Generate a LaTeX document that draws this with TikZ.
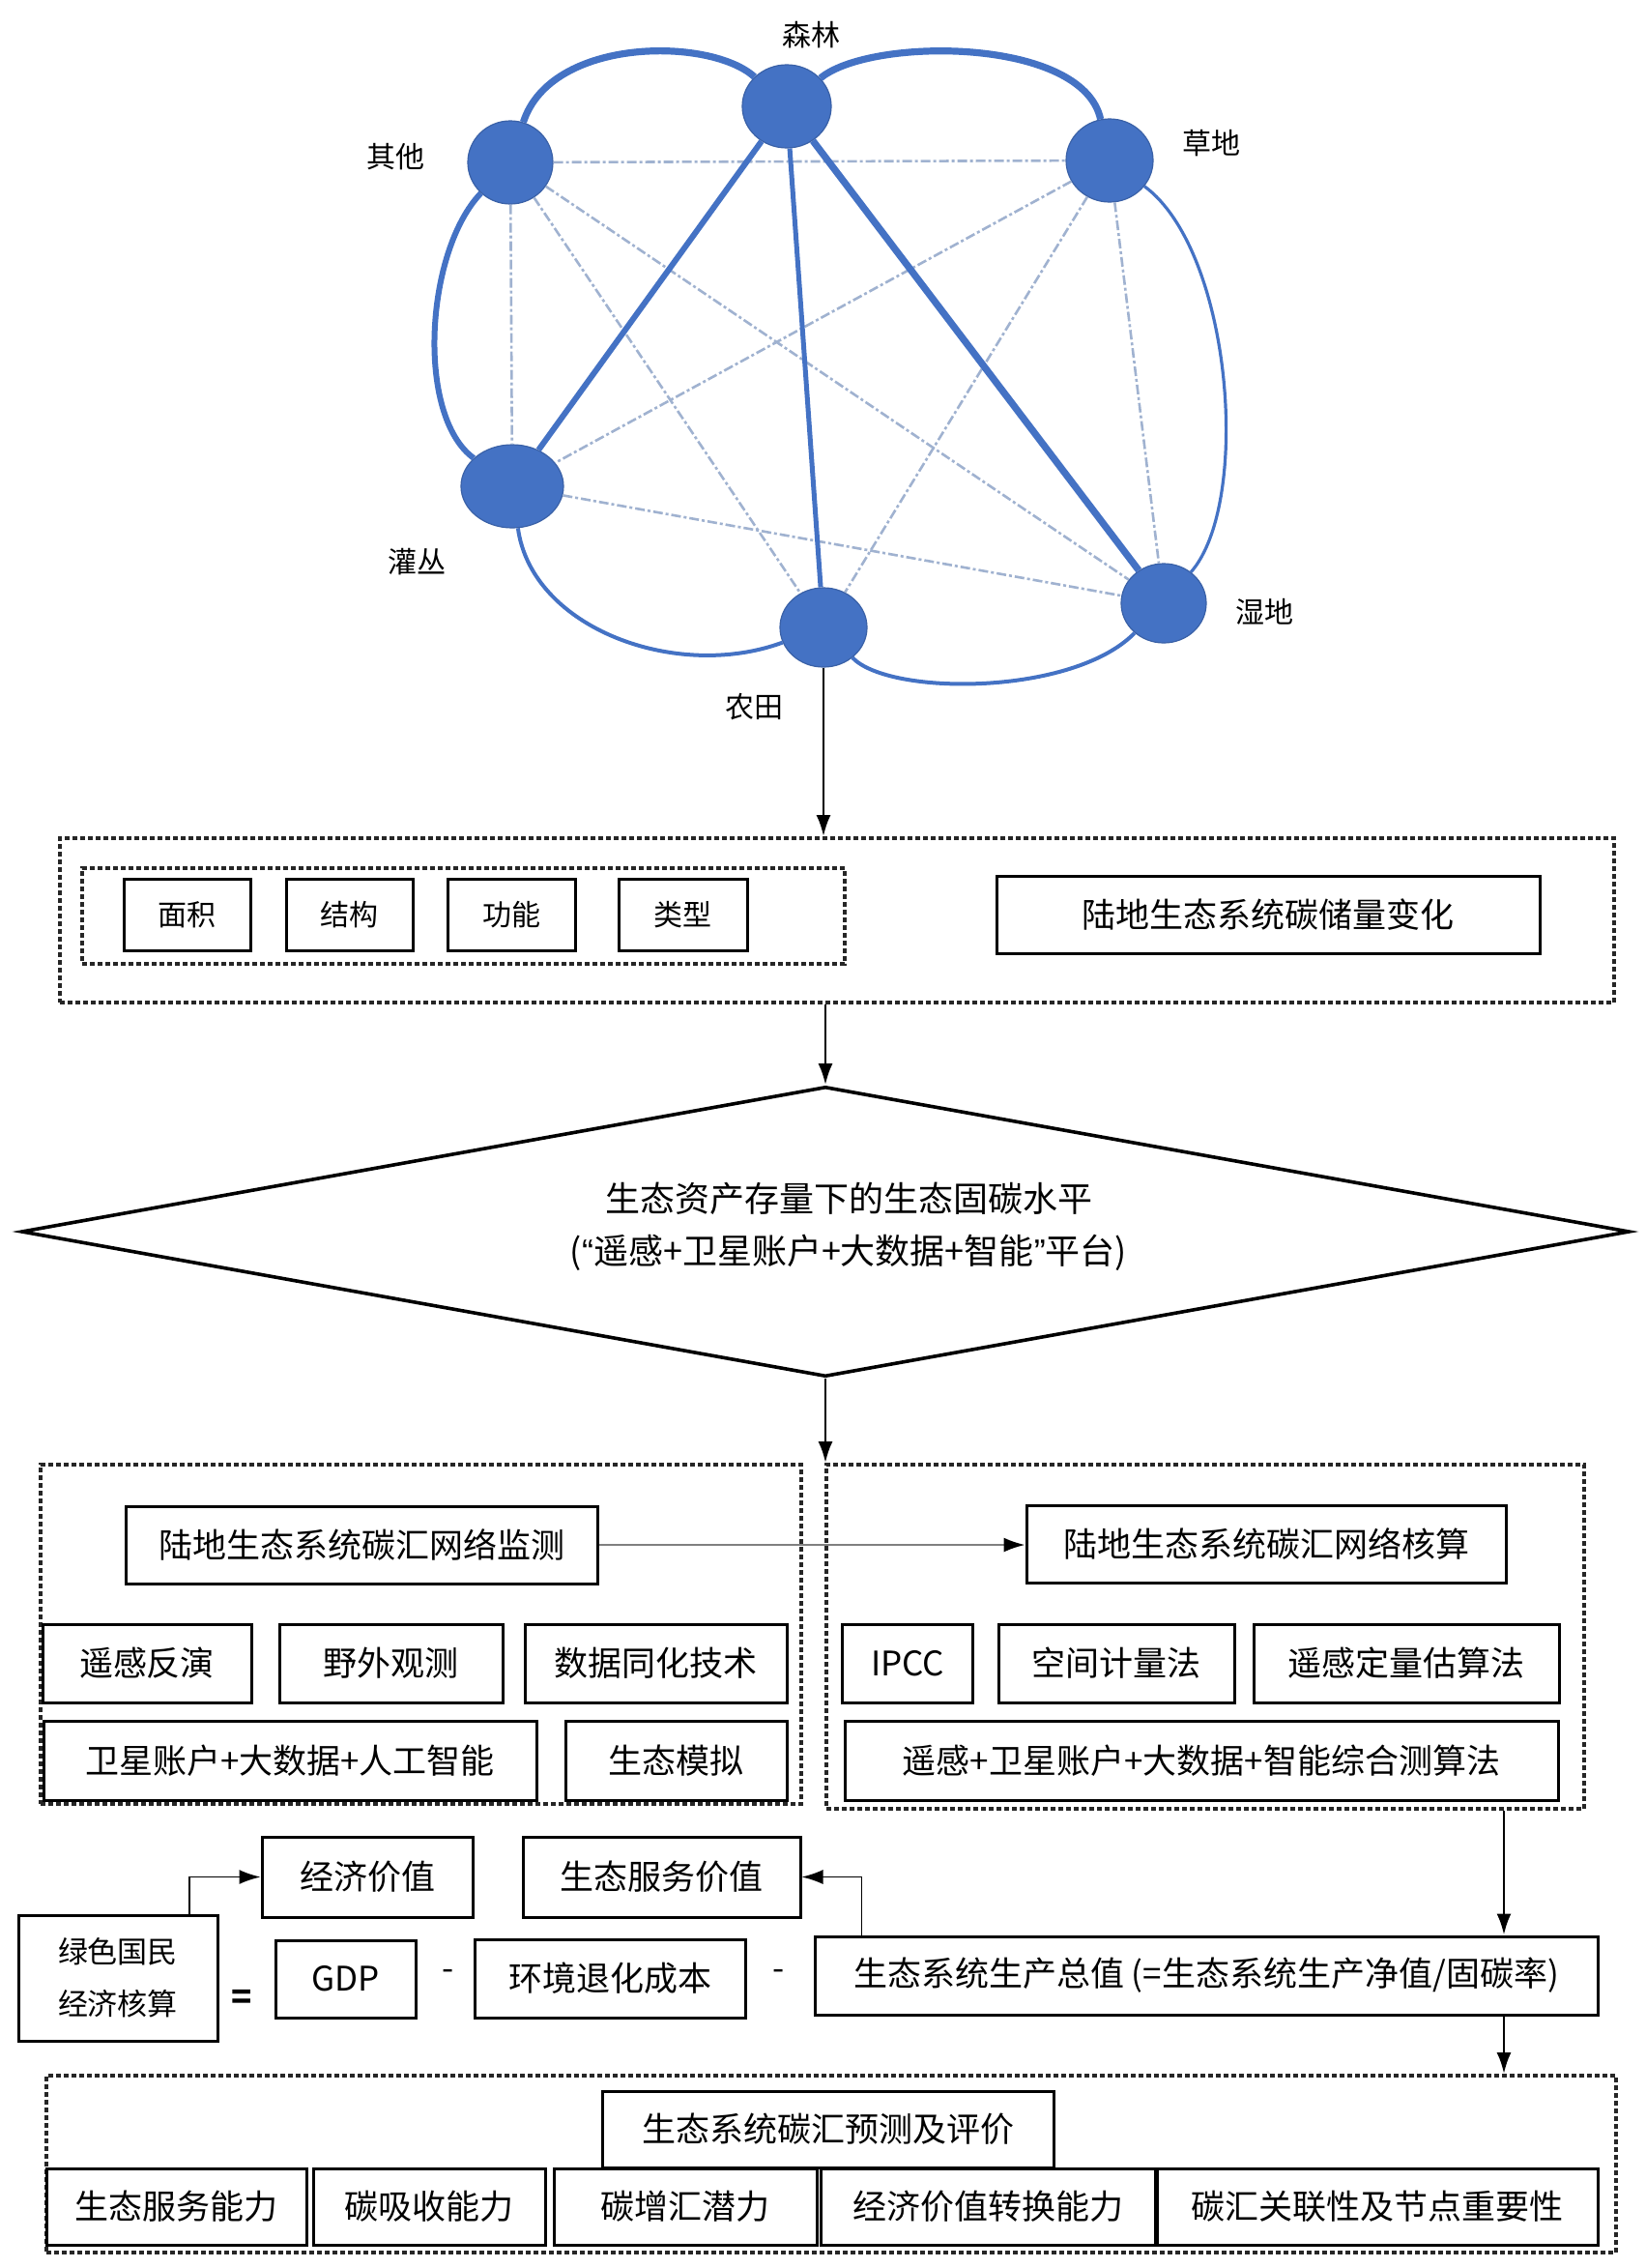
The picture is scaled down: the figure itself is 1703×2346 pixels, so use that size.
\documentclass[tikz,border=0pt]{standalone}
\usepackage{fontspec}
\newfontfamily\cjk{Noto Sans CJK SC}
\newfontfamily\lat{Liberation Sans}
\usetikzlibrary{shapes.geometric,arrows.meta}
\definecolor{netblue}{RGB}{68,114,196}
\definecolor{netgray}{RGB}{160,178,208}
\begin{document}
\begin{tikzpicture}[x=0.5pt,y=-0.5pt,
  font=\cjk\fontsize{17.5pt}{21pt}\selectfont,
  eco/.style={ellipse,fill=netblue,draw=netblue!85!black,line width=0.6pt,inner sep=0pt},
  tag/.style={font=\cjk\fontsize{15pt}{18pt}\selectfont},
  strong/.style={netblue,line width=3pt},
  weak/.style={netgray,line width=1.3pt,dash pattern=on 5pt off 1.5pt on 1.5pt off 1.5pt},
  box/.style={draw,line width=1.5pt,inner sep=0pt,fill=white},
  group/.style={draw=black!85,line width=1.9pt,dash pattern=on 2.5pt off 1.5pt,inner sep=0pt},
  arr/.style={-{Latex[length=11pt,width=7.5pt]},line width=1.4pt},
]
  \useasboundingbox (0,0) rectangle (1703,2346);

  \newcommand\boxH{40pt}

  %% network of ecosystems
  \node[eco,minimum width=46pt,minimum height=43pt] (senlin)   at (814,110) {};
  \node[eco,minimum width=44pt,minimum height=43pt] (qita)     at (528,168) {};
  \node[eco,minimum width=45pt,minimum height=43pt] (caodi)    at (1148,166) {};
  \node[eco,minimum width=53pt,minimum height=43pt] (guancong) at (530,503) {};
  \node[eco,minimum width=45pt,minimum height=41pt] (nongtian) at (852,649) {};
  \node[eco,minimum width=44pt,minimum height=41pt] (shidi)    at (1204,624) {};

  \node[tag] (lsenlin)   at (839,36)  {森林};
  \node[tag] (lqita)     at (409,162) {其他};
  \node[tag] (lcaodi)    at (1253,148) {草地};
  \node[tag] (lguancong) at (431,581) {灌丛};
  \node[tag] (lnongtian) at (780,731) {农田};
  \node[tag] (lshidi)    at (1308,633) {湿地};

  \foreach \a/\b in {qita/caodi, qita/guancong, qita/nongtian, qita/shidi,
                     caodi/guancong, caodi/nongtian, caodi/shidi, guancong/shidi}
    \draw[weak] (\a) -- (\b);

  \draw[strong,line width=3.6pt] (qita) .. controls (570,38) and (735,38) .. (senlin);
  \draw[strong,line width=3.6pt] (senlin) .. controls (900,38) and (1120,38) .. (caodi);
  \draw[strong] (senlin) -- (guancong);
  \draw[strong,line width=2.5pt] (senlin) -- (nongtian);
  \draw[strong,line width=3.6pt] (senlin) -- (shidi);
  \draw[strong] (qita) .. controls (440,260) and (430,430) .. (guancong);
  \draw[strong,line width=1.6pt] (caodi) .. controls (1275,260) and (1295,520) .. (shidi);
  \draw[strong,line width=2pt] (guancong) .. controls (550,650) and (700,705) .. (nongtian);
  \draw[strong,line width=2pt] (nongtian) .. controls (920,720) and (1110,720) .. (shidi);

  %% carbon stock
  \node[group,minimum width=804pt,minimum height=85pt] (stock) at (866,952) {};
  \node[group,minimum width=394.5pt,minimum height=49.5pt] (factors) at (479.5,947.5) {};
  \node[box,minimum width=65.5pt,minimum height=37pt] (mianji)  at (193.5,946) {\fontsize{15pt}{18pt}\selectfont 面积};
  \node[box,minimum width=65.5pt,minimum height=37pt] (jiegou)  at (361.5,946) {\fontsize{15pt}{18pt}\selectfont 结构};
  \node[box,minimum width=66pt,minimum height=37pt]   (gongneng) at (529,946) {\fontsize{15pt}{18pt}\selectfont 功能};
  \node[box,minimum width=66.5pt,minimum height=37pt] (leixing) at (706.5,946) {\fontsize{15pt}{18pt}\selectfont 类型};
  \node[box,minimum width=281pt,minimum height=\boxH] (change) at (1312,946) {陆地生态系统碳储量变化};

  \draw[arr] (nongtian.south) -- (nongtian.south |- stock.north);

  %% level of sequestration
  \node[diamond,draw,line width=1.8pt,inner sep=0pt,
        minimum width=832pt,minimum height=150pt] (level) at (854,1274) {};
  \node[align=center,font=\cjk\fontsize{18pt}{27pt}\selectfont] (leveltext) at (878,1269)
    {生态资产存量下的生态固碳水平\\({\lat “}遥感+卫星账户+大数据+智能{\lat ”}平台)};

  \draw[arr] (level.north |- stock.south) -- (level.north);

  %% monitoring and accounting
  \node[group,minimum width=393.5pt,minimum height=175.5pt] (lgroup) at (435.5,1690.5) {};
  \node[group,minimum width=392pt,minimum height=178pt]     (rgroup) at (1247,1693) {};

  \draw[arr] (level.south) -- (level.south |- lgroup.north);

  \node[box,minimum width=244pt,minimum height=\boxH] (monitor) at (374,1598) {陆地生态系统碳汇网络监测};
  \node[box,minimum width=248pt,minimum height=\boxH] (account) at (1310,1597) {陆地生态系统碳汇网络核算};
  \draw[-{Latex[length=11pt,width=7.5pt,black]},gray,line width=1pt] (monitor.east) -- (monitor.east -| account.west);

  \node[box,minimum width=108pt,minimum height=40.5pt]   (inversion) at (152,1720.5) {遥感反演};
  \node[box,minimum width=115.5pt,minimum height=40.5pt] (field)     at (404.5,1720.5) {野外观测};
  \node[box,minimum width=135.5pt,minimum height=40.5pt] (assim)     at (678.5,1720.5) {数据同化技术};
  \node[box,minimum width=67.5pt,minimum height=40.5pt]  (ipcc)      at (939,1720.5) {IPCC};
  \node[box,minimum width=122pt,minimum height=40.5pt]   (spatial)   at (1155,1720.5) {空间计量法};
  \node[box,minimum width=158pt,minimum height=40.5pt]   (quant)     at (1455,1720.5) {遥感定量估算法};

  \node[box,minimum width=255pt,minimum height=41pt]   (satai)  at (300,1821) {卫星账户+大数据+人工智能};
  \node[box,minimum width=114.5pt,minimum height=41pt] (simu)   at (699.5,1821) {生态模拟};
  \node[box,minimum width=369pt,minimum height=41pt]   (combo)  at (1243,1821) {遥感+卫星账户+大数据+智能综合测算法};

  %% green accounting
  \coordinate (drop) at (1556,0);
  \node[box,minimum width=109pt,minimum height=41.5pt]   (econ)    at (380,1941.5) {经济价值};
  \node[box,minimum width=143.5pt,minimum height=41.5pt] (service) at (684.5,1941.5) {生态服务价值};
  \node[box,minimum width=103pt,minimum height=65pt,align=center,
        font=\cjk\fontsize{15.5pt}{27pt}\selectfont] (green) at (122,2046) {绿色国民\\经济核算};
  \node (eq) at (250,2068) {\textbf{=}};
  \node[box,minimum width=72.5pt,minimum height=\boxH] (gdp) at (357.5,2047) {GDP};
  \node (minusa) at (464,2043) {-};
  \node[box,minimum width=140pt,minimum height=40.5pt] (cost) at (631,2046.5) {环境退化成本};
  \node (minusb) at (806,2043) {-};
  \node[box,minimum width=405pt,minimum height=40.5pt] (gep) at (1248,2043.5)
    {生态系统生产总值 (=生态系统生产净值/固碳率)};

  \draw[arr] (rgroup.south -| drop) -- (gep.north -| drop);
  \draw[arr,line width=0.8pt] ([xshift=37pt]green.north) |- (econ.west);
  \draw[arr,line width=0.8pt] ([xshift=25pt]gep.north west) |- (service.east);

  %% forecast and evaluation
  \node[group,minimum width=812pt,minimum height=91.5pt] (bgroup) at (860,2238.5) {};
  \draw[arr] (gep.south -| drop) -- (bgroup.north -| drop);

  \node[box,minimum width=233.5pt,minimum height=39.5pt] (forecast) at (856.5,2202.5) {生态系统碳汇预测及评价};
  \node[box,minimum width=134.5pt,minimum height=39.5pt] (svccap)    at (182.5,2282.5) {生态服务能力};
  \node[box,minimum width=120pt,minimum height=39.5pt]   (absorb)    at (444,2282.5) {碳吸收能力};
  \node[box,minimum width=136pt,minimum height=39.5pt]   (potential) at (709,2282.5) {碳增汇潜力};
  \node[box,minimum width=173pt,minimum height=39.5pt]   (convert)   at (1022,2282.5) {经济价值转换能力};
  \node[box,minimum width=228pt,minimum height=39.5pt]   (relate)    at (1425,2282.5) {碳汇关联性及节点重要性};

%%  \draw[arr] (forecast.south) -- (potential.north);
\end{tikzpicture}
\end{document}
